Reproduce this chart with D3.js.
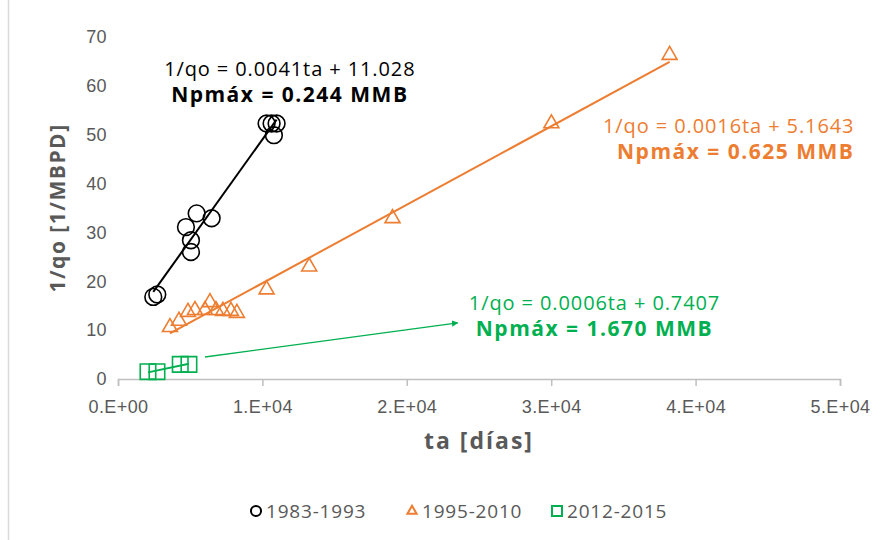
<!DOCTYPE html>
<html>
<head>
<meta charset="utf-8">
<script src="https://cdn.jsdelivr.net/npm/d3@7"></script>
<style>
  body { margin: 0; background: #fff; }
  svg { font-family: "Open Sans", "Noto Sans", sans-serif; }
</style>
</head>
<body>
<div id="chart"></div>
<script>
// Data (ta in days, 1/qo in 1/MBPD)
const seriesNames = ['1983-1993', '1995-2010', '2012-2015'];
const seriesColors = ['#000000', '#ED7D31', '#00B050'];
const seriesSymbols = ['circle', 'triangle', 'square'];

const ta1983 = [2443, 2720, 4706, 5052, 5052, 5446, 6484, 10290, 10637, 10983, 10796];
const qo1983 = [16.8, 17.3, 31.1, 28.4, 26.0, 33.9, 32.9, 52.3, 52.3, 52.3, 49.9];

const ta1995 = [3599, 4221, 4844, 5329, 6021, 6367, 6782, 7266, 7820, 8235, 10291, 13239, 19010, 30014, 38201];
const qo1995 = [10.6, 11.9, 13.7, 14.1, 14.1, 15.7, 14.1, 13.9, 13.9, 13.5, 18.3, 23.0, 32.9, 52.3, 66.3];

const ta2012 = [2076, 2699, 4311, 4913];
const qo2012 = [1.5, 1.5, 3.0, 3.0];

const xTicks = [0, 10000, 20000, 30000, 40000, 50000];
const yTicks = [0, 10, 20, 30, 40, 50, 60, 70];

const eqLabels = ['1/qo = 0.0041ta + 11.028', '1/qo = 0.0016ta + 5.1643', '1/qo = 0.0006ta + 0.7407'];
const npLabels = ['Npmáx = 0.244 MMB', 'Npmáx = 0.625 MMB', 'Npmáx = 1.670 MMB'];
// label anchor positions in data units [ta, 1/qo]
const labelPos = [[11900, 62.0], [51000, 50.3], [33000, 14.2]];
const labelAnchor = ['middle', 'end', 'middle'];
// green arrow (data units)
const arrowFrom = [6021, 4.5];
const arrowTo = [23529, 11.5];

const series = [
    { x: ta1983, y: qo1983 },
    { x: ta1995, y: qo1995 },
    { x: ta2012, y: qo2012 }
];

const W = 891, H = 540;
const margin = { top: 37, right: 51, bottom: 161, left: 118 };
const width = W - margin.left - margin.right;
const height = H - margin.top - margin.bottom;

const svg = d3.select('#chart').append('svg')
    .attr('width', W)
    .attr('height', H);

// chart border piece on the left
svg.append('line').attr('x1', 8.5).attr('x2', 8.5).attr('y1', 0).attr('y2', H)
    .attr('stroke', '#d9d9d9').attr('stroke-width', 1.5);

const g = svg.append('g').attr('transform', `translate(${margin.left},${margin.top})`);

const xScale = d3.scaleLinear().domain([0, 50000]).range([0, width]);
const yScale = d3.scaleLinear().domain([0, 70]).range([height, 0]);

const fmtSci = d => {
    if (d === 0) return '0.E+00';
    const e = Math.floor(Math.log10(d));
    return `${Math.round(d / Math.pow(10, e))}.E+${String(e).padStart(2, '0')}`;
};

// x axis
const xAxis = g.append('g').attr('transform', `translate(0,${height})`)
    .call(d3.axisBottom(xScale).tickValues(xTicks).tickFormat(fmtSci).tickSize(7).tickPadding(14));
xAxis.select('.domain').attr('stroke', '#bfbfbf').attr('stroke-width', 1.5);
xAxis.selectAll('.tick line').attr('stroke', '#bfbfbf').attr('stroke-width', 1.5);
xAxis.selectAll('text').attr('fill', '#595959').style('font-size', '18px').style('letter-spacing', '0.4px');

// y axis
const yAxis = g.append('g')
    .call(d3.axisLeft(yScale).tickValues(yTicks).tickSize(0).tickPadding(11));
yAxis.select('.domain').remove();
yAxis.selectAll('text').attr('fill', '#595959').style('font-size', '18px').style('letter-spacing', '0.4px');

// axis titles
svg.append('text').attr('x', margin.left + xScale(25000)).attr('y', 449)
    .attr('text-anchor', 'middle').attr('fill', '#595959')
    .style('font-size', '23px').style('font-weight', 'bold').style('letter-spacing', '2px')
    .text('ta [días]');
svg.append('text').attr('transform', `translate(65,${margin.top + height / 2}) rotate(-90)`)
    .attr('text-anchor', 'middle').attr('fill', '#595959')
    .style('font-size', '21px').style('font-weight', 'bold').style('letter-spacing', '1.5px')
    .text('1/qo [1/MBPD]');

// least squares trendline over the data range
function linReg(xs, ys) {
    const n = xs.length;
    const mx = d3.mean(xs), my = d3.mean(ys);
    let sxy = 0, sxx = 0;
    for (let i = 0; i < n; i++) {
        sxy += (xs[i] - mx) * (ys[i] - my);
        sxx += (xs[i] - mx) * (xs[i] - mx);
    }
    const m = sxy / sxx;
    return { m, b: my - m * mx };
}

series.forEach((s, i) => {
    const fit = linReg(s.x, s.y);
    const x0 = d3.min(s.x), x1 = d3.max(s.x);
    g.append('line')
        .attr('x1', xScale(x0)).attr('y1', yScale(fit.m * x0 + fit.b))
        .attr('x2', xScale(x1)).attr('y2', yScale(fit.m * x1 + fit.b))
        .attr('stroke', seriesColors[i]).attr('stroke-width', 2);
});

const symbolPath = {
    circle: d3.symbol().type(d3.symbolCircle).size(220)(),
    triangle: d3.symbol().type(d3.symbolTriangle2).size(160)(),
    square: d3.symbol().type(d3.symbolSquare).size(240)()
};

series.forEach((s, i) => {
    g.selectAll(`.pt${i}`).data(s.x.map((x, j) => [x, s.y[j]])).enter()
        .append('path')
        .attr('class', `pt${i}`)
        .attr('d', symbolPath[seriesSymbols[i]])
        .attr('transform', d => `translate(${xScale(d[0])},${yScale(d[1])})`)
        .attr('fill', 'none')
        .attr('stroke', seriesColors[i])
        .attr('stroke-width', 1.6);
});

// arrow annotation
svg.append('defs').append('marker')
    .attr('id', 'arrowG').attr('viewBox', '0 0 10 10').attr('refX', 9).attr('refY', 5)
    .attr('markerWidth', 5).attr('markerHeight', 5).attr('orient', 'auto')
    .append('path').attr('d', 'M0,0L10,5L0,10Z').attr('fill', seriesColors[2]);
g.append('line')
    .attr('x1', xScale(arrowFrom[0])).attr('y1', yScale(arrowFrom[1]))
    .attr('x2', xScale(arrowTo[0])).attr('y2', yScale(arrowTo[1]))
    .attr('stroke', seriesColors[2]).attr('stroke-width', 1.3)
    .attr('marker-end', 'url(#arrowG)');

// equation labels
labelPos.forEach((p, i) => {
    const lx = xScale(p[0]), ly = yScale(p[1]);
    g.append('text').attr('x', lx).attr('y', ly)
        .attr('text-anchor', labelAnchor[i]).attr('fill', seriesColors[i])
        .style('font-size', '20px').style('letter-spacing', '0.9px').text(eqLabels[i]);
    g.append('text').attr('x', lx).attr('y', ly + 26)
        .attr('text-anchor', labelAnchor[i]).attr('fill', seriesColors[i])
        .style('font-size', '21px').style('font-weight', 'bold').style('letter-spacing', '1.5px')
        .text(npLabels[i]);
});

// legend
const legendX = [256, 412, 557];
const legend = svg.append('g');
const legendSym = {
    circle: d3.symbol().type(d3.symbolCircle).size(80)(),
    triangle: d3.symbol().type(d3.symbolTriangle2).size(60)(),
    square: d3.symbol().type(d3.symbolSquare).size(100)()
};
seriesNames.forEach((name, i) => {
    const lg = legend.append('g').attr('transform', `translate(${legendX[i]},511)`);
    lg.append('path').attr('d', legendSym[seriesSymbols[i]])
        .attr('fill', 'none').attr('stroke', seriesColors[i]).attr('stroke-width', 2);
    lg.append('text').attr('x', 10).attr('y', 7)
        .attr('fill', '#595959').style('font-size', '19px').style('letter-spacing', '0.8px')
        .text(name);
});
</script>
</body>
</html>
